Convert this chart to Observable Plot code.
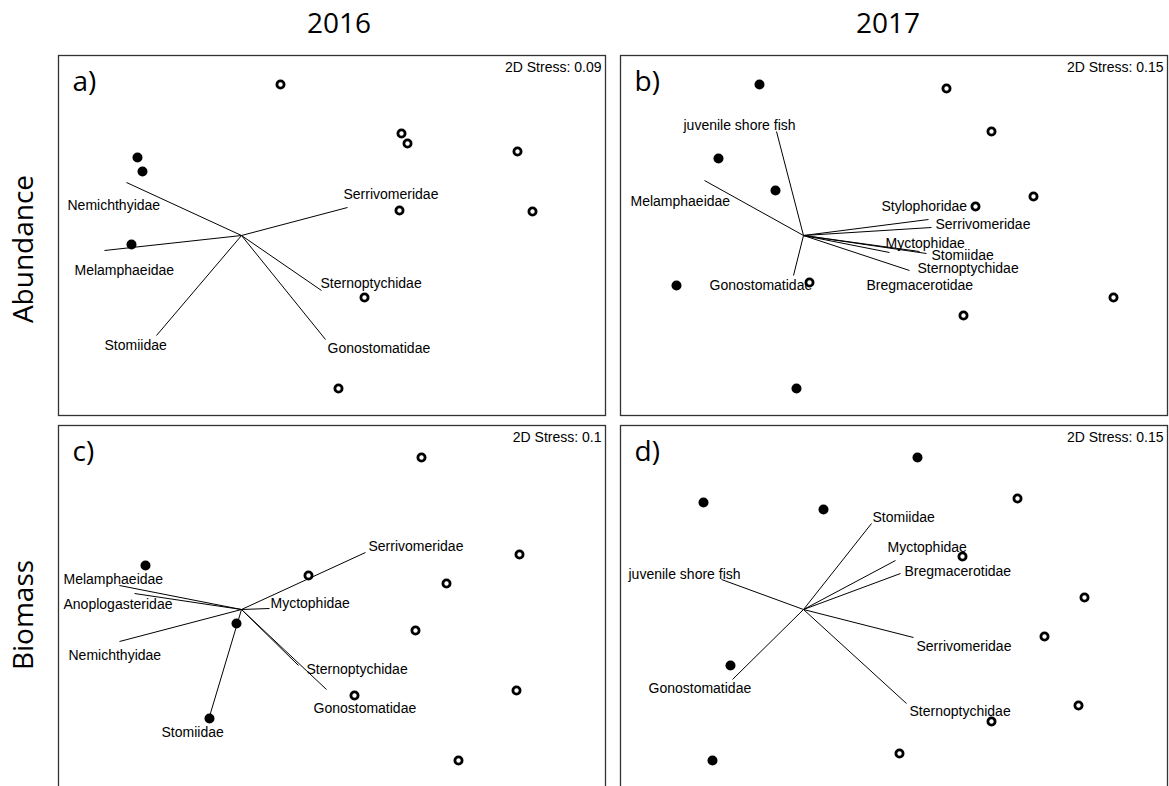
<!DOCTYPE html>
<html>
<head>
<meta charset="utf-8">
<script src="https://cdn.jsdelivr.net/npm/d3@7"></script>
<script src="https://cdn.jsdelivr.net/npm/@observablehq/plot@0.6"></script>
<style>
  html, body { margin: 0; background: #fff; }
  #fig { position: relative; width: 1169px; height: 786px; overflow: hidden; font-family: "Open Sans", sans-serif; color: #000; }
  .col { position: absolute; top: 8px; font-size: 28px; line-height: 28px; white-space: nowrap; transform: translateX(-50%); }
  .row { position: absolute; font-size: 28px; line-height: 28px; white-space: nowrap; transform: translate(-50%, -50%) rotate(-90deg); }
  .panel { position: absolute; }
  .panel svg { display: block; overflow: visible; }
</style>
</head>
<body>
<div id="fig"></div>
<script>
// NMDS site scores (two site groups: filled and open symbols) and
// species vectors (tip coordinates plus label anchor) for each ordination.

const years = ["2016", "2017"];
const measures = ["Abundance", "Biomass"];
const stress = { a: 0.09, b: 0.15, c: 0.1, d: 0.15 };

// a) Abundance 2016
const abund2016Filled = [[-0.52, 0.39], [-0.495, 0.32], [-0.55, -0.045]];
const abund2016Open = [[0.195, 0.755], [0.8, 0.51], [0.83, 0.46], [1.38, 0.42], [0.79, 0.125], [1.455, 0.12], [0.615, -0.31], [0.485, -0.765]];
const abund2016Vectors = [
  ["Nemichthyidae", -0.575, 0.265, -0.87, 0.15],
  ["Melamphaeidae", -0.685, -0.075, -0.835, -0.175],
  ["Serrivomeridae", 0.53, 0.14, 0.51, 0.205],
  ["Sternoptychidae", 0.4, -0.275, 0.395, -0.24],
  ["Gonostomatidae", 0.42, -0.52, 0.43, -0.565],
  ["Stomiidae", -0.425, -0.5, -0.685, -0.55]
];

// b) Abundance 2017
const abund2017Filled = [[-0.22, 0.755], [-0.425, 0.385], [-0.14, 0.225], [-0.635, -0.25], [-0.035, -0.765]];
const abund2017Open = [[0.715, 0.735], [0.94, 0.52], [1.15, 0.195], [0.86, 0.145], [0.03, -0.235], [1.55, -0.31], [0.8, -0.4]];
const abund2017Vectors = [
  ["juvenile shore fish", -0.135, 0.52, -0.6, 0.55],
  ["Melamphaeidae", -0.495, 0.275, -0.865, 0.17],
  ["Gonostomatidae", -0.05, -0.2, -0.47, -0.25],
  ["Stylophoridae", 0.625, 0.08, 0.39, 0.145],
  ["Serrivomeridae", 0.64, 0.04, 0.66, 0.055],
  ["Myctophidae", 0.58, -0.08, 0.41, -0.04],
  ["Stomiidae", 0.615, -0.09, 0.64, -0.1],
  ["Sternoptychidae", 0.53, -0.175, 0.57, -0.165],
  ["Bregmacerotidae", 0.43, -0.085, 0.315, -0.25]
];

// c) Biomass 2016
const bio2016Filled = [[-0.48, 0.22], [-0.025, -0.07], [-0.16, -0.545]];
const bio2016Open = [[0.9, 0.76], [1.39, 0.275], [1.025, 0.13], [0.335, 0.17], [0.87, -0.105], [1.375, -0.405], [0.565, -0.43], [1.085, -0.755]];
const bio2016Vectors = [
  ["Serrivomeridae", 0.62, 0.285, 0.635, 0.315],
  ["Melamphaeidae", -0.61, 0.12, -0.89, 0.15],
  ["Anoplogasteridae", -0.535, 0.08, -0.89, 0.025],
  ["Nemichthyidae", -0.61, -0.16, -0.865, -0.23],
  ["Myctophidae", 0.14, 0.005, 0.145, 0.03],
  ["Stomiidae", -0.16, -0.535, -0.4, -0.615],
  ["Sternoptychidae", 0.285, -0.28, 0.325, -0.3],
  ["Gonostomatidae", 0.425, -0.4, 0.36, -0.495]
];

// d) Biomass 2017
const bio2017Filled = [[0.57, 0.76], [-0.5, 0.535], [0.1, 0.5], [-0.365, -0.28], [-0.455, -0.755]];
const bio2017Open = [[1.07, 0.555], [0.795, 0.265], [1.405, 0.06], [1.205, -0.135], [1.375, -0.48], [0.94, -0.56], [0.48, -0.72]];
const bio2017Vectors = [
  ["Stomiidae", 0.34, 0.43, 0.345, 0.46],
  ["Myctophidae", 0.46, 0.245, 0.42, 0.31],
  ["Bregmacerotidae", 0.485, 0.18, 0.505, 0.19],
  ["juvenile shore fish", -0.41, 0.15, -0.875, 0.175],
  ["Serrivomeridae", 0.55, -0.14, 0.565, -0.185],
  ["Sternoptychidae", 0.515, -0.47, 0.53, -0.51],
  ["Gonostomatidae", -0.355, -0.35, -0.775, -0.395]
];

const toSites = arr => arr.map(([x, y]) => ({ x, y }));
const toVectors = arr => arr.map(([name, x, y, lx, ly]) => ({ name, x, y, lx, ly }));

const LABEL_FONT = "'Liberation Sans', Arial, Helvetica, sans-serif";
const TITLE_FONT = "'Open Sans', sans-serif";

// Panel layout on the page
const panels = [
  { id: "a", left: 57, top: 54, height: 362, ydom: [-0.9, 0.9], filled: abund2016Filled, open: abund2016Open, vectors: abund2016Vectors },
  { id: "b", left: 619, top: 54, height: 362, ydom: [-0.9, 0.9], filled: abund2017Filled, open: abund2017Open, vectors: abund2017Vectors },
  { id: "c", left: 57, top: 424, height: 372, ydom: [-0.93, 0.92], filled: bio2016Filled, open: bio2016Open, vectors: bio2016Vectors },
  { id: "d", left: 619, top: 424, height: 372, ydom: [-0.93, 0.92], filled: bio2017Filled, open: bio2017Open, vectors: bio2017Vectors }
];

const fig = document.getElementById("fig");

function addDiv(cls, text, style) {
  const el = document.createElement("div");
  el.className = cls;
  el.textContent = text;
  Object.assign(el.style, style);
  fig.appendChild(el);
  return el;
}

// Column (year) and row (measure) headings
addDiv("col", years[0], { left: "339px" });
addDiv("col", years[1], { left: "888px" });
addDiv("row", measures[0], { left: "22px", top: "249px" });
addDiv("row", measures[1], { left: "22px", top: "615px" });

for (const p of panels) {
  const vectors = toVectors(p.vectors);
  const chart = Plot.plot({
    width: 549,
    height: p.height,
    margin: 1,
    style: { background: "transparent", overflow: "visible" },
    x: { domain: [-0.915, 1.82], axis: null },
    y: { domain: p.ydom, axis: null },
    marks: [
      Plot.frame({ stroke: "#333", strokeWidth: 1.3 }),
      Plot.link(vectors, { x1: () => 0, y1: () => 0, x2: "x", y2: "y", stroke: "#000", strokeWidth: 1 }),
      Plot.text(vectors, { x: "lx", y: "ly", text: "name", textAnchor: "start", lineAnchor: "middle", fontSize: 14, fontFamily: LABEL_FONT, fill: "#000" }),
      Plot.dot(toSites(p.filled), { x: "x", y: "y", r: 5, fill: "#000", stroke: "none" }),
      Plot.dot(toSites(p.open), { x: "x", y: "y", r: 3.6, fill: "#fff", stroke: "#000", strokeWidth: 2.8 }),
      Plot.text([`${p.id})`], { frameAnchor: "top-left", text: d => d, dx: 14, dy: 35, textAnchor: "start", lineAnchor: "bottom", fontSize: 28, fontFamily: TITLE_FONT, fill: "#000" }),
      Plot.text([`2D Stress: ${stress[p.id]}`], { frameAnchor: "top-right", text: d => d, dx: -4, dy: 16.5, textAnchor: "end", lineAnchor: "bottom", fontSize: 14, fontFamily: LABEL_FONT, fill: "#000" })
    ]
  });
  const wrap = document.createElement("div");
  wrap.className = "panel";
  wrap.style.left = p.left + "px";
  wrap.style.top = p.top + "px";
  wrap.appendChild(chart);
  fig.appendChild(wrap);
}
</script>
</body>
</html>
